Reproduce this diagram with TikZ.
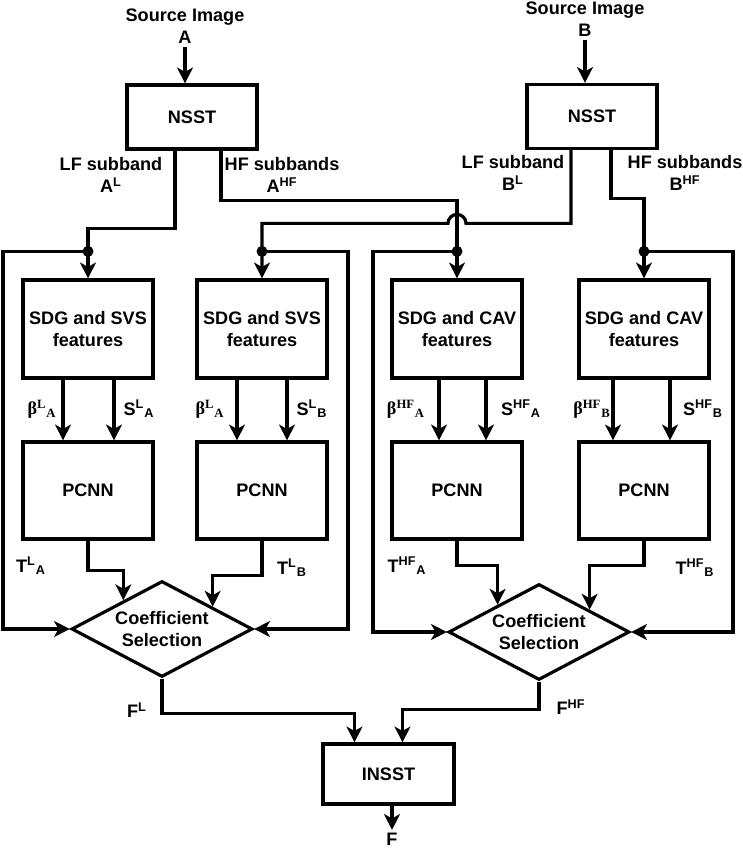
\documentclass[tikz,border=0pt]{standalone}
\usepackage{fontspec}
\setmainfont{Liberation Serif}
\setsansfont{Liberation Sans}
\usetikzlibrary{arrows.meta,shapes.geometric,calc}

\begin{document}
\begin{tikzpicture}[
  font=\sffamily\bfseries\fontsize{10.3}{12.5}\selectfont,
  line width=1.8pt,
  >={Stealth[width=9pt,length=9pt,inset=2.5pt]},
  blk/.style={draw,rectangle,minimum width=2.6cm,align=center},
  sdgbox/.style={blk,minimum height=1.96cm},
  pcnnbox/.style={blk,minimum height=1.94cm},
  csel/.style={draw,diamond,aspect=1.9,inner sep=0pt,minimum width=3.62cm,minimum height=1.92cm,align=center},
  jdot/.style={circle,fill,inner sep=0pt,minimum size=0.22cm},
  lbl/.style={align=center,inner sep=1pt}]
\useasboundingbox (0,0) rectangle (14.84,16.98);

\node[lbl] (srcA) at (3.70,16.46) {Source Image\\A};
\node[lbl] (srcB) at (11.70,16.60) {Source Image\\B};
\node[blk,minimum height=1.28cm] (nsstA) at (3.84,14.64) {NSST};
\node[blk,minimum height=1.28cm] (nsstB) at (11.84,14.65) {NSST};

\node[lbl] (lfA) at (2.22,13.48) {LF subband\\A\textsuperscript{L}};
\node[lbl] (hfA) at (5.64,13.48) {HF subbands\\A\textsuperscript{HF}};
\node[lbl] (lfB) at (10.26,13.52) {LF subband\\B\textsuperscript{L}};
\node[lbl] (hfB) at (13.70,13.52) {HF subbands\\B\textsuperscript{HF}};

\node[sdgbox] (sdg1) at (1.76,10.40) {SDG and SVS\\features};
\node[sdgbox] (sdg2) at (5.24,10.40) {SDG and SVS\\features};
\node[sdgbox] (sdg3) at (9.14,10.40) {SDG and CAV\\features};
\node[sdgbox] (sdg4) at (12.88,10.40) {SDG and CAV\\features};

\node[pcnnbox] (pcnn1) at (1.76,7.17) {PCNN};
\node[pcnnbox] (pcnn2) at (5.24,7.17) {PCNN};
\node[pcnnbox] (pcnn3) at (9.14,7.17) {PCNN};
\node[pcnnbox] (pcnn4) at (12.88,7.17) {PCNN};

\node[lbl] (bL1) at (0.84,8.80) {\rmfamily β\textsuperscript{L}\textsubscript{A}};
\node[lbl] (sL1) at (2.78,8.80) {S\textsuperscript{L}\textsubscript{A}};
\node[lbl] (bL2) at (4.20,8.80) {\rmfamily β\textsuperscript{L}\textsubscript{A}};
\node[lbl] (sL2) at (6.24,8.80) {S\textsuperscript{L}\textsubscript{B}};
\node[lbl] (bH1) at (8.12,8.80) {\rmfamily β\textsuperscript{HF}\textsubscript{A}};
\node[lbl] (sH1) at (10.42,8.80) {S\textsuperscript{HF}\textsubscript{A}};
\node[lbl] (bH2) at (11.84,8.80) {\rmfamily β\textsuperscript{HF}\textsubscript{B}};
\node[lbl] (sH2) at (14.06,8.80) {S\textsuperscript{HF}\textsubscript{B}};

\node[lbl] (tL1) at (0.62,5.66) {T\textsuperscript{L}\textsubscript{A}};
\node[lbl] (tL2) at (5.84,5.62) {T\textsuperscript{L}\textsubscript{B}};
\node[lbl] (tH1) at (8.14,5.66) {T\textsuperscript{HF}\textsubscript{A}};
\node[lbl] (tH2) at (13.90,5.62) {T\textsuperscript{HF}\textsubscript{B}};

\node[csel] (cs1) at (3.24,4.40) {Coefficient\\Selection};
\node[csel] (cs2) at (10.78,4.34) {Coefficient\\Selection};

\node[lbl] (fL) at (2.74,2.78) {F\textsuperscript{L}};
\node[lbl] (fH) at (11.42,2.84) {F\textsuperscript{HF}};

\node[blk,minimum width=2.62cm,minimum height=1.2cm] (insst) at (7.77,1.50) {INSST};
\node[lbl] (fout) at (7.84,0.19) {F};

\node[jdot] (j1) at ([yshift=0.54cm]sdg1.north) {};
\node[jdot] (j2) at ([yshift=0.54cm]sdg2.north) {};
\node[jdot] (j3) at ([yshift=0.54cm]sdg3.north) {};
\node[jdot] (j4) at ([yshift=0.54cm]sdg4.north) {};

\draw[->] (srcA) -- (srcA |- nsstA.north);
\draw[->] (srcB) -- (srcB |- nsstB.north);

\draw[->] ([xshift=-0.34cm]nsstA.south) |- ([yshift=0.46cm]j1.center) -- (sdg1.north);
\draw[->] ([xshift=0.58cm]nsstA.south) |- ([yshift=1.02cm]j3.center) -- (sdg3.north);
\draw[->] ([xshift=-0.42cm]nsstB.south) |- ([xshift=0.18cm,yshift=0.56cm]j3.center)
  arc (0:180:0.18) -| (j2.center) -- (sdg2.north);
\draw[->] ([xshift=0.38cm]nsstB.south) |- ([yshift=1.06cm]j4.center) -- (sdg4.north);

\draw[->] (j1.center) -- ++(-1.70,0) |- (cs1.west);
\draw[->] (j2.center) -- ++(1.72,0) |- (cs1.east);
\draw[->] (j3.center) -- ++(-1.68,0) |- (cs2.west);
\draw[->] (j4.center) -- ++(1.78,0) |- (cs2.east);

\draw[->] ([xshift=-0.50cm]sdg1.south) -- ([xshift=-0.50cm]pcnn1.north);
\draw[->] ([xshift=0.52cm]sdg1.south) -- ([xshift=0.52cm]pcnn1.north);
\draw[->] ([xshift=-0.50cm]sdg2.south) -- ([xshift=-0.50cm]pcnn2.north);
\draw[->] ([xshift=0.50cm]sdg2.south) -- ([xshift=0.50cm]pcnn2.north);
\draw[->] ([xshift=-0.36cm]sdg3.south) -- ([xshift=-0.36cm]pcnn3.north);
\draw[->] ([xshift=0.58cm]sdg3.south) -- ([xshift=0.58cm]pcnn3.north);
\draw[->] ([xshift=-0.62cm]sdg4.south) -- ([xshift=-0.62cm]pcnn4.north);
\draw[->] ([xshift=0.52cm]sdg4.south) -- ([xshift=0.52cm]pcnn4.north);

\draw[->] (pcnn1.south) -- ++(0,-0.60) -| ($(cs1.west)!0.58!(cs1.north)$);
\draw[->] (pcnn2.south) -- ++(0,-0.70) -| ($(cs1.north)!0.55!(cs1.east)$);
\draw[->] (pcnn3.south) -- ++(0,-0.50) -| ($(cs2.west)!0.55!(cs2.north)$);
\draw[->] (pcnn4.south) -- ++(0,-0.50) -| ($(cs2.north)!0.55!(cs2.east)$);

\draw[->] (cs1.south) -- ++(0,-0.70) -| ([xshift=-0.68cm]insst.north);
\draw[->] (cs2.south) -- ++(0,-0.56) -| ([xshift=0.28cm]insst.north);
\draw[->] (insst.south -| fout) -- (fout);
\end{tikzpicture}
\end{document}
